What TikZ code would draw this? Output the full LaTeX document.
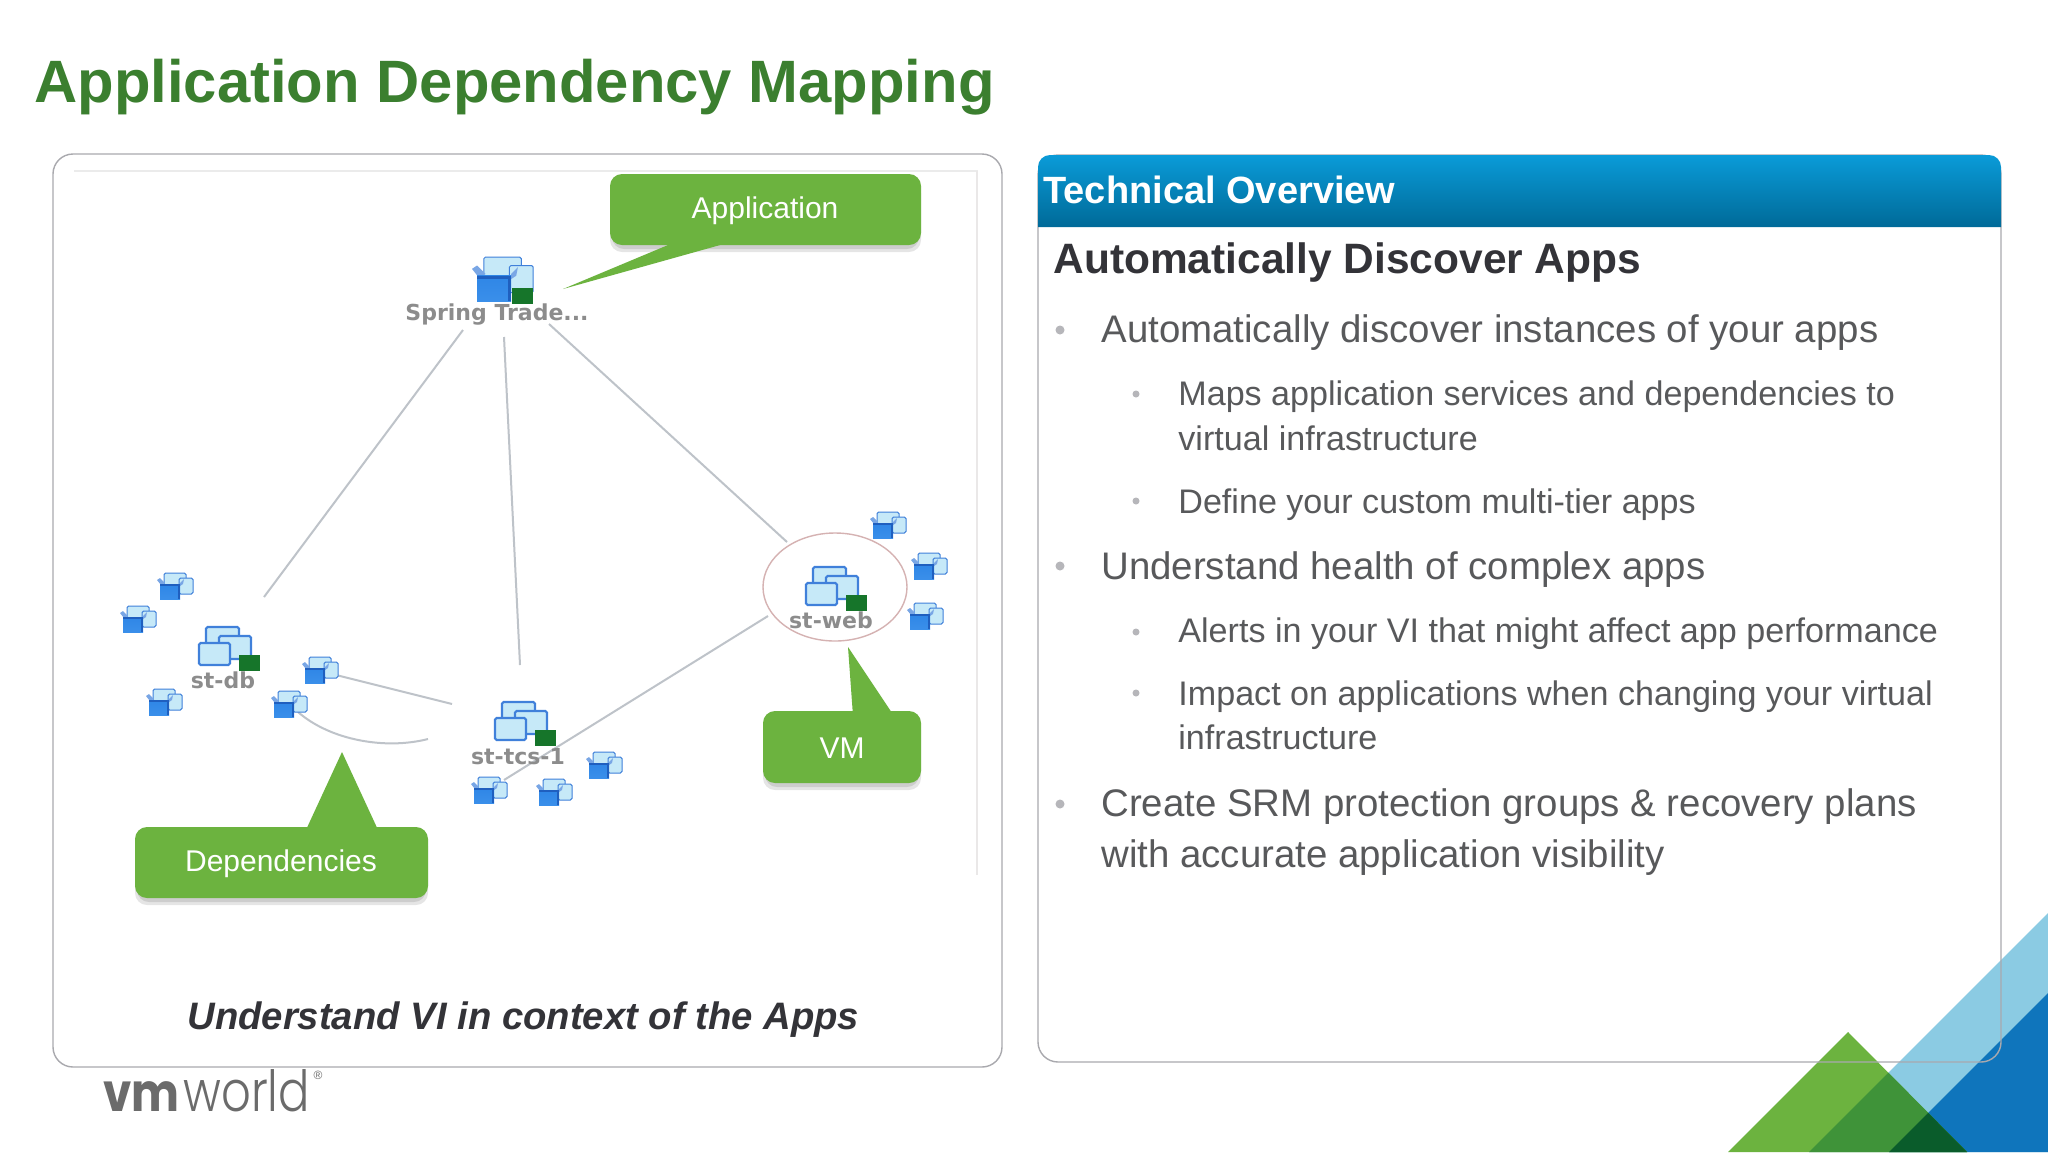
\documentclass[tikz,border=0pt]{standalone}
\usepackage{fontspec}
\setmainfont{Liberation Sans}
\newfontfamily\labfont{DejaVu Sans}
\newfontfamily\vmfont{Poppins}
\newfontfamily\vmlight{Poppins Light}
\usetikzlibrary{calc}
\definecolor{titlegreen}{HTML}{3B7F2F}
\definecolor{callgreen}{HTML}{6CB33F}
\definecolor{tbody}{HTML}{58595B}
\definecolor{tdark}{HTML}{333338}
\definecolor{lineg}{HTML}{A9A9AE}
\definecolor{edgeg}{HTML}{BEC3C9}
\definecolor{winblue}{HTML}{4080DA}
\definecolor{winfill}{HTML}{C6E9F8}
\definecolor{okgreen}{HTML}{16752A}
\definecolor{boxtop}{HTML}{2F86E6}
\definecolor{boxbot}{HTML}{3A8FEA}
\definecolor{boxedge}{HTML}{1F5FBF}
\definecolor{headtop}{HTML}{0A9BD8}
\definecolor{headbot}{HTML}{006A98}
\definecolor{tlight}{HTML}{8BCBE3}
\definecolor{tblue}{HTML}{0F75BC}
\definecolor{tmid}{HTML}{3F9339}
\definecolor{tdeep}{HTML}{0A5C2B}
\tikzset{
  frame/.style={draw=lineg,line width=0.7pt,rounded corners=10pt},
  edgeline/.style={draw=edgeg,line width=1pt},
  callout/.style={fill=callgreen,draw=none,rounded corners=6pt},
  calltail/.style={fill=callgreen,draw=none},
  shadowbox/.style={fill=black,opacity=0.1,rounded corners=6pt},
  calltext/.style={text=white,font=\fontsize{15}{18}\selectfont,inner sep=0pt},
  txt/.style={anchor=base west,inner sep=0pt,text=tbody},
  lone/.style={txt,font=\fontsize{19.2}{22}\selectfont},
  ltwo/.style={txt,font=\fontsize{17.05}{20}\selectfont},
  applabel/.style={text=black!45,inner sep=0pt,font=\labfont\bfseries\fontsize{11}{13}\selectfont},
  win/.style={draw=winblue,fill=winfill,line width=1.1pt,rounded corners=0.8pt},
  smallapp/.pic={
    \draw[win,line width=0.5pt] (7,0) rectangle (29,16);
    \draw[win,line width=0.5pt] (22,5) rectangle (36,21);
    \fill[winblue!70] (0,7) -- (3,5) -- (8,10) -- (4,12) -- cycle;
    \fill[winblue!70] (23,10) -- (27,6) -- (26,11) -- (23,13) -- cycle;
    \shade[top color=boxtop,bottom color=boxbot] (3,11) rectangle (23,26);
    \fill[boxedge] (3,11) rectangle (23,13);
    \fill[boxedge] (21,12) rectangle (23,26);
  },
  groupicon/.pic={
    \draw[win] (7,0) rectangle (40,24);
    \draw[win] (20,9) rectangle (52,32);
    \draw[win] (0,16) rectangle (31,38);
    \fill[okgreen] (40,28) rectangle (61,44);
  }
}
\begin{document}
\begin{tikzpicture}[x=0.5pt,y=-0.5pt]
\useasboundingbox (0,0) rectangle (2048,1152);
\fill[white] (0,0) rectangle (2048,1152);
% corner art
\fill[tlight] (2048,913) -- (1809,1152) -- (2048,1152) -- cycle;
\fill[tblue] (2048,993) -- (1889,1152) -- (2048,1152) -- cycle;
\fill[callgreen] (1848,1032) -- (1728,1152) -- (1967,1152) -- cycle;
\begin{scope}
\clip (1848,1032) -- (1728,1152) -- (1967,1152) -- cycle;
\fill[tmid] (2048,913) -- (1809,1152) -- (2048,1152) -- cycle;
\fill[tdeep] (2048,993) -- (1889,1152) -- (2048,1152) -- cycle;
\end{scope}
% title
\node[anchor=base west,inner sep=0pt,text=titlegreen,font=\bfseries\fontsize{29.9}{34}\selectfont] (title) at (34,102) {Application Dependency Mapping};
% left frame
\draw[frame] (53,154) rectangle (1002,1067);
\draw[draw=black!8!white,line width=0.8pt] (74,171) -- (978,171);
\draw[draw=red!8!black!9!white,line width=1pt] (977,171) -- (977,875);
% connectors
\coordinate (e1a) at (463,330); \coordinate (e1b) at (264,597);
\coordinate (e2a) at (504,337); \coordinate (e2b) at (520,665);
\coordinate (e3a) at (549,324); \coordinate (e3b) at (787,542);
\coordinate (e4a) at (768,616); \coordinate (e4b) at (504,780);
\coordinate (e5a) at (336,675); \coordinate (e5b) at (452,704);
\coordinate (e6a) at (298,712); \coordinate (e6b) at (428,739);
\draw[edgeline] (e1a) -- (e1b);
\draw[edgeline] (e2a) -- (e2b);
\draw[edgeline] (e3a) -- (e3b);
\draw[edgeline] (e5a) -- (e5b);
\draw[edgeline] (e6a) .. controls (330,740) and (385,750) .. (e6b);
% small icons
\foreach \px/\py in {157/573,120/606,146/689,302/657,271/691,471/777,536/779,586/752,870/512,911/553,907/603}
  \pic at (\px,\py) {smallapp};
\draw[edgeline] (e4a) -- (e4b);
% spring trade
\pic[xscale=1.7,yscale=1.7] at (472,257) {smallapp};
\fill[okgreen] (512,288) rectangle (533,304);
\node[applabel] (spring) at (497,315) {Spring Trade...};
% groups
\pic at (199,627) {groupicon};
\node[applabel] (stdb) at (223,680) {st-db};
\pic at (495,702) {groupicon};
\node[applabel] (sttcs) at (518,757) {st-tcs-1};
\pic at (806,567) {groupicon};
\node[applabel] (stweb) at (831,620) {st-web};
\draw[draw=red!45!black!30!white,line width=0.7pt] (835,587) ellipse [x radius=72,y radius=54];
% callouts
\fill[shadowbox] (610,181) rectangle (921,252);
\fill[shadowbox] (612,178) rectangle (919,249);
\fill[calltail] (563,289) -- (680,240) -- (738,240) -- cycle;
\fill[callout] (610,174) rectangle (921,245);
\node[calltext] (capp) at (765,211) {Application};
\fill[shadowbox] (135,834) rectangle (428,905);
\fill[shadowbox] (137,831) rectangle (426,902);
\fill[calltail] (342,752) -- (305,832) -- (379,832) -- cycle;
\fill[callout] (135,827) rectangle (428,898);
\node[calltext] (cdep) at (281,864) {Dependencies};
\fill[shadowbox] (763,718) rectangle (921,790);
\fill[shadowbox] (765,715) rectangle (919,787);
\fill[calltail] (848,647) -- (853,716) -- (894,716) -- cycle;
\fill[callout] (763,711) rectangle (921,783);
\node[calltext] (cvm) at (842,748) {VM};
% caption
\node[anchor=base west,inner sep=0pt,text=tdark,font=\bfseries\itshape\fontsize{19.13}{22}\selectfont] (cap) at (187,1029) {Understand VI in context of the Apps};
% logo
\node[anchor=base west,inner sep=0pt,text=black!58,font=\vmfont\bfseries\fontsize{26}{28}\selectfont] (vm) at (103,1111) {\scalebox{0.87}[1.02]{vm}};
\node[anchor=base west,inner sep=0pt,text=black!58,font=\vmlight\fontsize{27}{28}\selectfont] (wd) at (183,1111) {\scalebox{0.86}[1.05]{world}};
\node[inner sep=0pt,text=black!58,font=\fontsize{6}{7}\selectfont] (reg) at (318,1075) {®};
% right panel
\draw[frame] (1038,155) rectangle (2001,1062);
\shade[top color=headtop,bottom color=headbot] (1038,227) [rounded corners=6pt] -- (1038,155) -- (2001,155) [sharp corners] -- (2001,227) -- cycle;
\node[anchor=base west,inner sep=0pt,text=white,font=\bfseries\fontsize{19}{22}\selectfont] (head) at (1043,203) {Technical Overview};
\node[anchor=base west,inner sep=0pt,text=tdark,font=\bfseries\fontsize{21.24}{24}\selectfont] (sub) at (1053,273) {Automatically Discover Apps};
\node[lone] (a1) at (1101,342) {Automatically discover instances of your apps};
\node[ltwo] (a2) at (1178,405) {Maps application services and dependencies to};
\node[ltwo] (a3) at (1178,450) {virtual infrastructure};
\node[ltwo] (a4) at (1178,513) {Define your custom multi-tier apps};
\node[lone] (a5) at (1101,579) {Understand health of complex apps};
\node[ltwo] (a6) at (1178,642) {Alerts in your VI that might affect app performance};
\node[ltwo] (a7) at (1178,705) {Impact on applications when changing your virtual};
\node[ltwo] (a8) at (1178,749) {infrastructure};
\node[lone] (a9) at (1101,816) {Create SRM protection groups \& recovery plans};
\node[lone] (a10) at (1101,867) {with accurate application visibility};
\foreach \bx/\by/\br in {1060/330/4.5,1136/394/3.5,1136/501/3.5,1060/566/4.5,1136/632/3.5,1136/693/3.5,1060/804/4.5}
  \fill[lineg!85] (\bx,\by) circle [radius=\br];
\end{tikzpicture}
\end{document}
